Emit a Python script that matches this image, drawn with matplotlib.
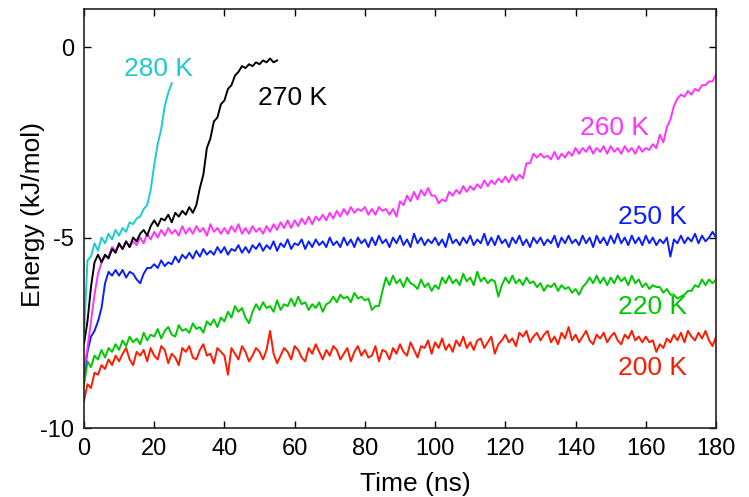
import numpy as np
import matplotlib
matplotlib.use("Agg")
import matplotlib.pyplot as plt

plt.rcParams['font.family'] = ['Liberation Sans', 'DejaVu Sans']
plt.rcParams['axes.unicode_minus'] = False

t_200 = np.arange(0, 181)
e_200 = [
-9.3,-8.85,-8.95,-8.55,-8.6,-8.35,-8.45,-8.2,-8.35,-8.1,
-8.25,-8.05,-7.9,-8.2,-8.35,-8.0,-8.1,-7.95,-8.25,-7.9,
-8.1,-8.2,-7.85,-7.95,-8.3,-8.05,-8.15,-8.35,-7.9,-8.0,
-7.85,-8.15,-8.2,-7.95,-7.8,-8.1,-8.05,-8.3,-7.9,-8.0,
-8.1,-8.6,-7.9,-8.05,-8.2,-7.85,-8.0,-8.25,-8.1,-7.9,
-8.0,-8.2,-7.95,-7.45,-8.05,-8.3,-8.1,-7.9,-8.0,-8.2,
-7.85,-7.95,-8.15,-8.25,-7.9,-8.05,-7.8,-8.0,-8.2,-7.95,
-8.1,-7.85,-7.95,-8.2,-8.05,-7.9,-8.25,-8.0,-7.85,-8.1,
-7.95,-8.15,-8.1,-7.85,-8.25,-7.95,-8.0,-8.2,-7.9,-8.05,
-7.8,-8.0,-8.1,-7.75,-7.95,-8.15,-7.85,-7.9,-7.7,-8.05,
-7.75,-7.9,-7.65,-7.95,-7.8,-8.0,-7.7,-7.85,-7.6,-7.9,
-7.75,-7.95,-7.7,-7.65,-7.9,-7.75,-7.6,-8.05,-7.8,-7.7,
-7.55,-7.75,-7.65,-7.85,-7.5,-7.6,-7.45,-7.75,-7.6,-7.5,
-7.7,-7.55,-7.45,-7.75,-7.6,-7.8,-7.5,-7.65,-7.35,-7.7,
-7.55,-7.75,-7.6,-7.45,-7.7,-7.8,-7.55,-7.65,-7.5,-7.75,
-7.6,-7.5,-7.7,-7.8,-7.55,-7.65,-7.45,-7.7,-7.6,-7.75,
-7.6,-7.75,-7.7,-8.0,-7.8,-7.9,-7.65,-7.75,-7.55,-7.7,
-7.5,-7.75,-7.45,-7.6,-7.7,-7.5,-7.65,-7.45,-7.7,-7.85,-7.6]

t_220 = np.arange(0, 181)
e_220 = [
-8.9,-8.25,-8.4,-8.1,-8.2,-7.95,-8.15,-7.9,-8.0,-7.8,
-7.95,-7.7,-7.85,-7.6,-7.75,-7.65,-7.8,-7.5,-7.7,-7.55,
-7.6,-7.4,-7.65,-7.45,-7.35,-7.55,-7.6,-7.3,-7.45,-7.4,
-7.5,-7.25,-7.4,-7.35,-7.5,-7.2,-7.3,-7.15,-7.35,-7.1,
-7.2,-6.95,-7.1,-6.8,-6.95,-6.85,-7.1,-7.25,-6.95,-6.75,
-6.9,-6.7,-6.85,-6.8,-6.95,-6.65,-6.9,-6.75,-6.8,-6.6,
-6.8,-6.55,-6.75,-6.7,-6.9,-6.75,-6.85,-6.7,-6.95,-6.75,
-6.7,-6.55,-6.7,-6.5,-6.6,-6.55,-6.7,-6.45,-6.6,-6.55,
-6.65,-6.6,-6.9,-6.8,-6.8,-6.4,-6.05,-6.25,-6.0,-6.2,
-6.1,-6.3,-6.05,-6.2,-6.25,-6.35,-6.1,-6.3,-6.2,-6.4,
-6.25,-6.35,-6.05,-6.2,-6.0,-6.2,-6.1,-6.25,-5.95,-6.15,
-6.05,-6.25,-5.9,-6.15,-6.05,-6.2,-6.1,-6.15,-6.55,-6.25,
-6.05,-6.2,-6.0,-6.2,-6.1,-6.25,-6.05,-6.2,-6.15,-6.3,
-6.2,-6.4,-6.25,-6.3,-6.2,-6.4,-6.25,-6.35,-6.3,-6.45,
-6.35,-6.5,-6.3,-6.2,-6.05,-6.2,-6.0,-6.2,-6.05,-6.25,
-6.05,-6.2,-6.0,-6.15,-6.05,-6.25,-6.0,-6.2,-6.1,-6.3,
-6.2,-6.35,-6.25,-6.3,-6.3,-6.45,-6.35,-6.5,-6.5,-6.6,
-6.55,-6.5,-6.4,-6.4,-6.25,-6.3,-6.1,-6.25,-6.1,-6.2,-6.1]

t_250 = np.arange(0, 181)
e_250 = [
-8.6,-8.0,-7.6,-7.45,-7.2,-6.85,-6.2,-5.9,-6.0,-5.85,
-6.0,-5.85,-6.05,-5.9,-5.95,-6.1,-6.2,-5.95,-5.8,-5.8,
-5.7,-5.8,-5.6,-5.75,-5.65,-5.7,-5.5,-5.65,-5.45,-5.55,
-5.4,-5.55,-5.35,-5.5,-5.3,-5.45,-5.35,-5.45,-5.25,-5.4,
-5.25,-5.45,-5.3,-5.35,-5.2,-5.4,-5.25,-5.4,-5.2,-5.3,
-5.15,-5.35,-5.2,-5.3,-5.1,-5.35,-5.15,-5.25,-5.05,-5.3,
-5.15,-5.2,-5.05,-5.3,-5.1,-5.25,-5.05,-5.2,-5.1,-5.25,
-5.0,-5.2,-5.1,-5.25,-5.0,-5.2,-5.05,-5.25,-5.0,-5.15,
-5.05,-5.25,-5.0,-5.2,-4.95,-5.15,-5.05,-5.25,-5.0,-5.15,
-4.95,-5.2,-5.05,-5.25,-4.9,-5.15,-5.0,-5.2,-5.05,-5.15,
-5.0,-5.2,-5.05,-5.25,-4.9,-5.15,-5.05,-5.2,-5.0,-5.15,
-4.95,-5.2,-5.05,-5.15,-4.9,-5.2,-5.0,-5.2,-4.95,-5.15,
-5.05,-5.25,-5.0,-5.15,-4.95,-5.2,-5.05,-5.25,-5.0,-5.15,
-5.0,-5.2,-5.05,-5.15,-4.95,-5.25,-5.0,-5.15,-4.95,-5.15,
-5.05,-5.2,-4.95,-5.15,-5.0,-5.25,-4.95,-5.15,-5.0,-5.2,
-4.95,-5.15,-4.9,-5.15,-5.0,-5.2,-4.95,-5.15,-5.0,-5.2,
-4.95,-5.15,-5.0,-5.2,-5.05,-5.15,-5.0,-5.5,-5.05,-5.15,
-4.95,-5.15,-5.0,-5.1,-4.9,-5.15,-4.95,-5.1,-5.0,-4.85,-5.0]

t_260 = np.arange(0, 181)
e_260 = [
-8.5,-7.9,-7.2,-6.5,-5.95,-5.65,-5.5,-5.5,-5.25,-5.35,
-5.2,-5.3,-5.1,-5.25,-5.1,-5.2,-5.0,-5.15,-4.9,-5.05,
-4.85,-5.0,-4.8,-4.95,-4.75,-4.9,-4.8,-4.95,-4.7,-4.9,
-4.75,-4.9,-4.7,-4.85,-4.75,-4.95,-4.65,-4.85,-4.75,-4.9,
-4.75,-4.9,-4.7,-4.85,-4.65,-4.9,-4.75,-4.9,-4.7,-4.85,
-4.75,-4.9,-4.7,-4.85,-4.65,-4.8,-4.6,-4.75,-4.55,-4.75,
-4.55,-4.7,-4.5,-4.65,-4.45,-4.65,-4.45,-4.55,-4.4,-4.55,
-4.35,-4.5,-4.3,-4.45,-4.25,-4.4,-4.2,-4.35,-4.25,-4.3,
-4.2,-4.4,-4.25,-4.4,-4.2,-4.3,-4.25,-4.4,-4.25,-4.45,
-4.05,-4.15,-3.9,-4.05,-3.8,-4.0,-3.75,-3.9,-3.7,-3.9,
-3.9,-4.1,-4.0,-4.05,-3.8,-3.9,-3.75,-3.85,-3.65,-3.8,
-3.65,-3.75,-3.6,-3.7,-3.5,-3.65,-3.5,-3.6,-3.45,-3.55,
-3.4,-3.55,-3.35,-3.5,-3.35,-3.45,-3.05,-3.05,-2.8,-2.9,
-2.8,-2.9,-2.85,-2.95,-2.75,-2.95,-2.8,-2.9,-2.75,-2.85,
-2.65,-2.8,-2.65,-2.75,-2.6,-2.8,-2.65,-2.75,-2.6,-2.8,
-2.6,-2.75,-2.65,-2.8,-2.6,-2.75,-2.65,-2.8,-2.6,-2.75,
-2.65,-2.7,-2.55,-2.65,-2.3,-2.5,-2.1,-1.9,-1.55,-1.35,
-1.25,-1.3,-1.15,-1.25,-1.1,-1.15,-1.0,-1.0,-0.9,-0.9,-0.72]

t_270 = np.arange(0, 56)
e_270 = [
-7.8,-7.2,-6.3,-5.65,-5.45,-5.65,-5.45,-5.55,-5.3,-5.4,
-5.15,-5.3,-5.1,-5.25,-5.0,-5.1,-4.9,-4.8,-4.95,-4.7,
-4.55,-4.7,-4.5,-4.55,-4.4,-4.6,-4.35,-4.45,-4.3,-4.4,
-4.2,-4.35,-4.15,-3.7,-3.35,-2.65,-2.4,-1.95,-1.85,-1.5,
-1.4,-1.1,-1.0,-0.75,-0.65,-0.5,-0.55,-0.45,-0.5,-0.4,
-0.45,-0.35,-0.4,-0.3,-0.4,-0.35]

t_280 = np.arange(0, 26)
e_280 = [
-7.6,-5.6,-5.5,-5.15,-5.35,-5.0,-5.15,-4.9,-5.05,-4.8,
-4.95,-4.75,-4.85,-4.6,-4.65,-4.5,-4.45,-4.25,-4.15,-3.75,
-3.1,-2.55,-2.15,-1.55,-1.2,-0.95]

labels = ['200 K', '220 K', '250 K', '260 K', '270 K', '280 K']
colors = ['#ff1a00', '#00c800', '#0a1eff', '#ff33ff', '#000000', '#1ccccc']
label_pos = [(161.8, -8.42), (161.8, -6.82), (161.8, -4.47),
             (151.2, -2.13), (59.5, -1.34), (21.1, -0.58)]

series = [(t_200, e_200), (t_220, e_220), (t_250, e_250),
          (t_260, e_260), (t_270, e_270), (t_280, e_280)]

fig = plt.figure(figsize=(7.49, 4.97), dpi=100)
ax = fig.add_axes([0.1121, 0.1388, 0.8439, 0.8431])

for (t, e), c in zip(series, colors):
    ax.plot(t, e, color=c, lw=1.4)

for lab, c, (x, y) in zip(labels, colors, label_pos):
    ax.text(x, y, lab, color=c, fontsize=19, ha='center', va='center')

ax.set_xlim(0, 180)
ax.set_ylim(-10, 1.0)
ax.set_xticks(np.arange(0, 181, 20))
ax.set_yticks([-10, -5, 0])
ax.tick_params(direction='in', length=5, width=1, top=True, right=True,
               labelsize=17, pad=7)
for s in ax.spines.values():
    s.set_linewidth(1.2)
    s.set_color('#222222')
ax.set_xlabel('Time (ns)', fontsize=19)
ax.set_ylabel('Energy (kJ/mol)', fontsize=19)
ax.xaxis.set_label_coords(0.525, -0.105)
ax.yaxis.set_label_coords(-0.062, 0.51)

fig.savefig('out.png', dpi=100)
